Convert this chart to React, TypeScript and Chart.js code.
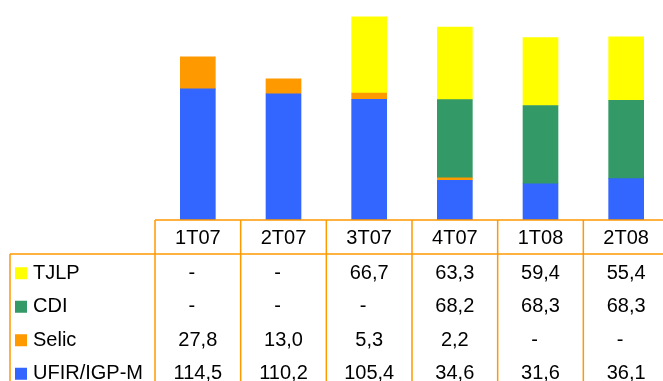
import React, { useEffect, useRef } from "react";
import { Chart, registerables } from "chart.js";

Chart.register(...registerables);

const categories = ["1T07", "2T07", "3T07", "4T07", "1T08", "2T08"];
const tjlp: (number | null)[] = [null, null, 66.7, 63.3, 59.4, 55.4];
const cdi: (number | null)[] = [null, null, null, 68.2, 68.3, 68.3];
const selic: (number | null)[] = [27.8, 13.0, 5.3, 2.2, null, null];
const ufir: (number | null)[] = [114.5, 110.2, 105.4, 34.6, 31.6, 36.1];

const seriesNames = ["TJLP", "CDI", "Selic", "UFIR/IGP-M"];
const seriesColors = ["#FFFF00", "#339966", "#FF9900", "#3366FF"];
const tableRows = [tjlp, cdi, selic, ufir];

const FONT = '20px "Liberation Sans", Arial, sans-serif';
const LINE = "#FF9900";

const fmt = (v: number | null) => (v == null ? "-" : v.toFixed(1).replace(".", ","));

const tablePlugin = {
  id: "dataTable",
  afterDraw(chart: any) {
    const ctx = chart.ctx as CanvasRenderingContext2D;
    const xs = chart.scales.x;
    const area = chart.chartArea;
    const H = chart.height;
    const n = categories.length;
    const lane = (area.right - area.left) / n;
    const headTop = area.bottom;
    const headBot = headTop + 34;
    const rowH = 33.5;
    const tableLeft = 10;

    ctx.save();
    ctx.strokeStyle = LINE;
    ctx.lineWidth = 1.5;
    ctx.beginPath();
    ctx.moveTo(area.left, headTop);
    ctx.lineTo(area.right, headTop);
    ctx.moveTo(tableLeft, headBot);
    ctx.lineTo(area.right, headBot);
    for (let i = 0; i <= n; i++) {
      const x = area.left + i * lane;
      ctx.moveTo(x, headTop);
      ctx.lineTo(x, H);
    }
    ctx.moveTo(tableLeft, headBot);
    ctx.lineTo(tableLeft, H);
    ctx.stroke();

    ctx.fillStyle = "#000";
    ctx.font = FONT;
    ctx.textAlign = "center";
    ctx.textBaseline = "middle";
    categories.forEach((c, i) => {
      const x = xs.getPixelForValue(i);
      ctx.fillText(c, x, (headTop + headBot) / 2 + 1);
    });

    tableRows.forEach((row, r) => {
      const cy = headBot + 1.5 + rowH * (r + 0.5);
      ctx.fillStyle = seriesColors[r];
      ctx.fillRect(15, cy - 5, 12, 12);
      ctx.fillStyle = "#000";
      ctx.textAlign = "left";
      ctx.fillText(seriesNames[r], 33, cy + 1);
      ctx.textAlign = "center";
      row.forEach((v, i) => {
        const x = xs.getPixelForValue(i);
        ctx.fillText(fmt(v), v == null ? x - 6 : x, cy + 1);
      });
    });
    ctx.restore();
  },
};

export default function App() {
  const ref = useRef<HTMLCanvasElement | null>(null);
  useEffect(() => {
    if (!ref.current) return;
    const datasets = [ufir, selic, cdi, tjlp].map((d, k) => {
      const idx = 3 - k;
      return {
        label: seriesNames[idx],
        data: d,
        backgroundColor: seriesColors[idx],
        borderWidth: 0,
        barThickness: 35,
      };
    });
    const chart = new Chart(ref.current, {
      type: "bar",
      data: { labels: categories, datasets },
      options: {
        responsive: false,
        animation: false,
        devicePixelRatio: 1,
        layout: { padding: { left: 155, right: 0, top: 0, bottom: 161 } },
        plugins: { legend: { display: false }, tooltip: { enabled: false } },
        scales: {
          x: { display: false, stacked: true, offset: true },
          y: { display: false, stacked: true, min: 0, max: 192 },
        },
      },
      plugins: [tablePlugin],
    });
    return () => chart.destroy();
  }, []);
  return (
    <div
      style={{
        position: "fixed",
        left: 0,
        top: 0,
        width: 663,
        height: 381,
        overflow: "hidden",
        background: "#fff",
      }}
    >
      <canvas ref={ref} width={669} height={381} style={{ display: "block" }} />
    </div>
  );
}
